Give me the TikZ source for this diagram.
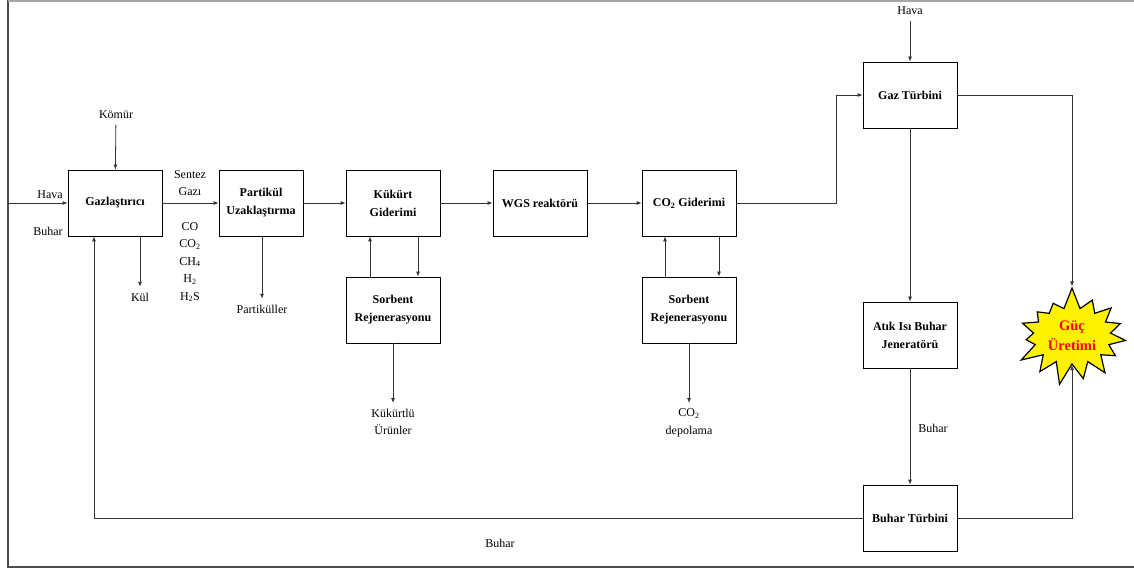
\documentclass[tikz,border=0pt]{standalone}
\usepackage{fontspec}
\setmainfont{Liberation Serif}
\usetikzlibrary{arrows.meta, shapes.symbols, calc}

\begin{document}
\begin{tikzpicture}[x=1pt, y=-1pt,
    blok/.style={draw, line width=0.8pt, minimum width=94pt, minimum height=66pt, align=center, font=\fontsize{12}{18}\selectfont\bfseries},
    etiket/.style={align=center, font=\fontsize{12}{17.5}\selectfont, inner sep=1pt, outer sep=5pt},
    ok/.style={-{Latex[length=5pt,width=4pt]}, line width=0.8pt, draw=black!80},
]
\useasboundingbox (0,0) rectangle (1134,569);
% cerceve
\draw[black!70, line width=1.5pt] (8,0) -- (8,567) -- (1134,567);
\draw[black!35, line width=2pt] (8,1) -- (1134,1);

\node[blok] (gaz) at (115,203) {Gazlaştırıcı};
\node[blok, minimum width=84pt] (part) at (261,203) {Partikül\\Uzaklaştırma};
\node[blok] (kukurt) at (393,203) {Kükürt\\Giderimi};
\node[blok] (wgs) at (540,203) {WGS reaktörü};
\node[blok] (cogid) at (689,203) {CO\textsubscript{2} Giderimi};
\node[blok] (sorb1) at (393,310) {Sorbent\\Rejenerasyonu};
\node[blok] (sorb2) at (689,310) {Sorbent\\Rejenerasyonu};
\node[blok] (gazturb) at (910,95) {Gaz Türbini};
\node[blok] (atik) at (910,335) {Atık Isı Buhar\\Jeneratörü};
\node[blok] (buharturb) at (910,518) {Buhar Türbini};
\node[starburst, starburst points=15, starburst point height=22pt, random starburst=7,
      draw, line width=1.2pt, fill=yellow, minimum width=116pt, minimum height=100pt, align=center,
      font=\fontsize{14.5}{20}\selectfont\bfseries, text=red] (guc) at (1072,336) {Güç\\Üretimi};

\node[etiket] (komur) at (116,115) {Kömür};
\node[etiket] (havasol) at (50,195) {Hava};
\node[etiket] (buharsol) at (48,231) {Buhar};
\node[etiket] (kul) at (140,297) {Kül};
\node[etiket] (sentez) at (190,183) {Sentez\\Gazı};
\node[etiket] (bilesen) at (190,262) {CO\\CO\textsubscript{2}\\CH\textsubscript{4}\\H\textsubscript{2}\\H\textsubscript{2}S};
\node[etiket] (partikuller) at (262,309) {Partiküller};
\node[etiket] (kukurtlu) at (393,422) {Kükürtlü\\Ürünler};
\node[etiket] (depolama) at (689,423) {CO\textsubscript{2}\\depolama};
\node[etiket] (havaust) at (910,11) {Hava};
\node[etiket] (buharorta) at (933,428) {Buhar};
\node[etiket] (buharalt) at (500,543) {Buhar};
\coordinate (havagiris) at (8,203);
\coordinate (dirsek) at (836,203);

\draw[ok] (havagiris) -- (gaz);
\draw[ok] (komur) -- (gaz);
\draw[ok] (gaz.south -| kul) -- (kul);
\draw[ok] (gaz) -- (part);
\draw[ok] (part.south -| partikuller) -- (partikuller);
\draw[ok] (part) -- (kukurt);
\draw[ok] (kukurt) -- (wgs);
\draw[ok] (wgs) -- (cogid);
\draw[ok] ([xshift=-23pt]sorb1.north) -- ([xshift=-23pt]kukurt.south);
\draw[ok] ([xshift=25pt]kukurt.south) -- ([xshift=25pt]sorb1.north);
\draw[ok] (sorb1) -- (kukurtlu);
\draw[ok] ([xshift=-24pt]sorb2.north) -- ([xshift=-24pt]cogid.south);
\draw[ok] ([xshift=30pt]cogid.south) -- ([xshift=30pt]sorb2.north);
\draw[ok] (sorb2) -- (depolama);
\draw[ok] (cogid) -- (dirsek) |- (gazturb);
\draw[ok] (havaust) -- (gazturb);
\draw[ok] (gazturb) -| (guc);
\draw[ok] (gazturb) -- (atik);
\draw[ok] (atik) -- (buharturb);
\draw[ok] (buharturb) -| (guc);
\draw[ok] (buharturb) -| ([xshift=-21pt]gaz.south);
\end{tikzpicture}
\end{document}
